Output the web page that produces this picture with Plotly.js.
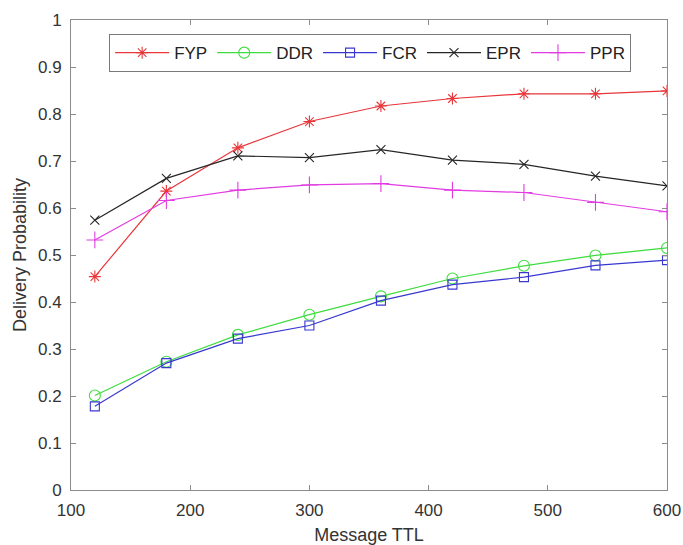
<!DOCTYPE html>
<html>
<head>
<meta charset="utf-8">
<script src="https://cdn.plot.ly/plotly-3.0.1.min.js"></script>
<style>
  html, body { margin: 0; padding: 0; background: #fff; }
  #chart { width: 683px; height: 545px; }
</style>
</head>
<body>
<div id="chart"></div>
<script>
// Message TTL values (x axis)
const ttl = [120, 180, 240, 300, 360, 420, 480, 540, 600];

// Delivery probability per routing scheme
const fyp = [0.454, 0.636, 0.728, 0.784, 0.817, 0.833, 0.843, 0.843, 0.849];
const ddr = [0.201, 0.273, 0.330, 0.373, 0.412, 0.450, 0.477, 0.499, 0.515];
const fcr = [0.178, 0.270, 0.322, 0.350, 0.403, 0.437, 0.453, 0.478, 0.489];
const epr = [0.574, 0.663, 0.711, 0.707, 0.724, 0.702, 0.693, 0.668, 0.647];
const ppr = [0.532, 0.616, 0.638, 0.649, 0.652, 0.638, 0.633, 0.612, 0.592];

const seriesNames = ['FYP', 'DDR', 'FCR', 'EPR', 'PPR'];
const seriesData = [fyp, ddr, fcr, epr, ppr];
const seriesColors = ['#e8363a', '#3fdc3f', '#3838d0', '#262626', '#e23be2'];
const seriesSymbols = ['asterisk-open', 'circle-open', 'square-open', 'x-thin-open', 'cross-thin-open'];
const seriesSizes = [10, 11, 9, 9, 12];

const traces = seriesNames.map((name, i) => ({
  type: 'scatter',
  mode: 'lines+markers',
  name: name,
  x: ttl,
  y: seriesData[i],
  line: { color: seriesColors[i], width: 1.2 },
  marker: {
    symbol: seriesSymbols[i],
    size: seriesSizes[i],
    color: seriesColors[i],
    line: { color: seriesColors[i], width: 1.1 }
  }
}));

const axisColor = '#8c8c8c';
const textColor = '#333333';
const fontFamily = '"Liberation Sans", Arial, Helvetica, sans-serif';

const layout = {
  width: 683,
  height: 545,
  margin: { l: 71, r: 16, t: 20, b: 55 },
  paper_bgcolor: '#ffffff',
  plot_bgcolor: '#ffffff',
  font: { family: fontFamily, size: 17, color: textColor },
  showlegend: true,
  legend: {
    orientation: 'h',
    x: 0.064,
    y: 0.970,
    xanchor: 'left',
    yanchor: 'top',
    bgcolor: '#ffffff',
    bordercolor: '#7a7a7a',
    borderwidth: 1,
    font: { family: fontFamily, size: 17, color: '#222222' },
    itemwidth: 54,
    tracegroupgap: 0
  },
  xaxis: {
    range: [100, 600],
    tickvals: [100, 200, 300, 400, 500, 600],
    ticks: 'inside',
    ticklen: 5,
    tickcolor: axisColor,
    showline: true,
    linecolor: axisColor,
    linewidth: 1,
    mirror: 'ticks',
    showgrid: false,
    zeroline: false,
    ticklabelstandoff: 5,
    tickfont: { family: fontFamily, size: 17, color: textColor },
    title: { text: 'Message TTL', font: { family: fontFamily, size: 18, color: textColor }, standoff: 8 }
  },
  yaxis: {
    range: [0, 1],
    tickvals: [0, 0.1, 0.2, 0.3, 0.4, 0.5, 0.6, 0.7, 0.8, 0.9, 1],
    ticktext: ['0', '0.1', '0.2', '0.3', '0.4', '0.5', '0.6', '0.7', '0.8', '0.9', '1'],
    ticks: 'inside',
    ticklen: 5,
    tickcolor: axisColor,
    showline: true,
    linecolor: axisColor,
    linewidth: 1,
    mirror: 'ticks',
    showgrid: false,
    zeroline: false,
    ticklabelstandoff: 5,
    tickfont: { family: fontFamily, size: 17, color: textColor },
    title: { text: 'Delivery Probability', font: { family: fontFamily, size: 18, color: textColor }, standoff: 6 }
  }
};

Plotly.newPlot('chart', traces, layout, { displayModeBar: false, staticPlot: true });
</script>
</body>
</html>
